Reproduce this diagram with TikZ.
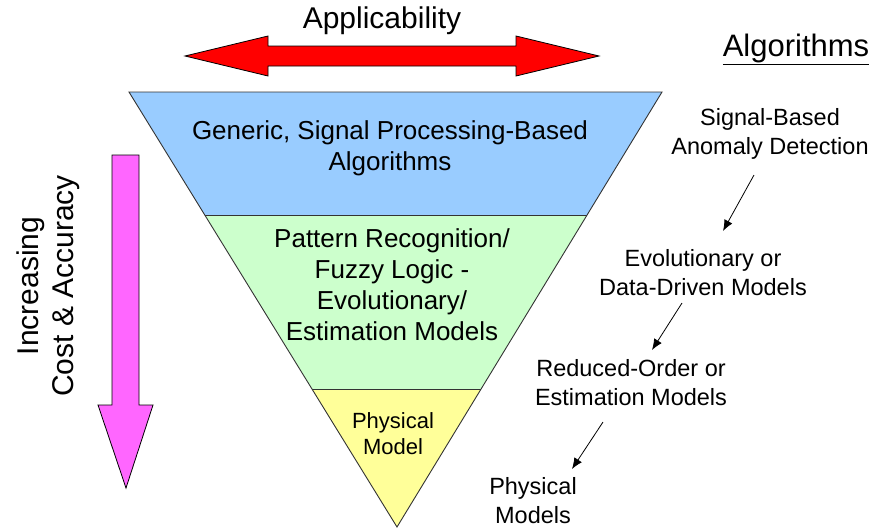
\documentclass[tikz,border=0pt]{standalone}
\usepackage{fontspec}
\setmainfont{Liberation Sans}
\usetikzlibrary{arrows.meta}
\definecolor{bandblue}{HTML}{99CCFF}
\definecolor{bandgreen}{HTML}{CCFFCC}
\definecolor{bandyellow}{HTML}{FFFF99}
\definecolor{pinkarrow}{HTML}{FF66FF}
\definecolor{redarrow}{HTML}{FF0000}
\tikzset{
  band/.style={draw=black!80, line width=0.9pt, line join=miter},
  bigarrow/.style={draw=black, line width=0.8pt, line join=miter},
  bandtext/.style={align=center, font=\fontsize{26}{31}\selectfont, inner sep=0pt},
  algtext/.style={align=center, font=\fontsize{23.5}{29}\selectfont, inner sep=0pt},
  flow/.style={-{Latex[length=11pt,width=9pt]}, line width=0.8pt, black},
}
\begin{document}
\begin{tikzpicture}[x=1pt,y=-1pt]
\useasboundingbox (0,0) rectangle (881,528);
% triangle bands
\fill[bandblue] (129,92) -- (662,92) -- (587,215) -- (205,215) -- cycle;
\fill[bandgreen] (205,215) -- (587,215) -- (481,389) -- (312,389) -- cycle;
\fill[bandyellow] (312,389) -- (481,389) -- (397,527) -- cycle;
\draw[band] (205,215) -- (587,215);
\draw[band] (312,389) -- (481,389);
\draw[band] (129,92) -- (662,92) -- (397,527) -- cycle;
% red double arrow
\draw[bigarrow, fill=redarrow] (185,56) -- (268,36) -- (268,46) -- (516,46) -- (516,36) -- (599,56) -- (516,76) -- (516,66) -- (268,66) -- (268,76) -- cycle;
\node[font=\fontsize{30}{34}\selectfont, inner sep=0pt] (appl) at (382,21) {Applicability};
% pink arrow
\draw[bigarrow, fill=pinkarrow] (112,155) -- (139,155) -- (139,405) -- (153,405) -- (126,488) -- (98,405) -- (112,405) -- cycle;
\node[rotate=90, align=center, font=\fontsize{30}{35}\selectfont, inner sep=0pt] (incr) at (48,286) {Increasing\\Cost \& Accuracy};
% band texts
\node[bandtext] (generic) at (390,148) {Generic, Signal Processing-Based\\Algorithms};
\node[bandtext] (pattern) at (392,285) {Pattern Recognition/\\Fuzzy Logic -\\Evolutionary/\\Estimation Models};
\node[align=center, font=\fontsize{22}{26}\selectfont, inner sep=0pt] (phys) at (393,434) {Physical\\Model};
% algorithms column
\node[font=\fontsize{31}{35}\selectfont, inner sep=0pt] (algs) at (796,49) {\underline{Algorithms}};
\node[algtext] (sig) at (770,134) {Signal-Based\\Anomaly Detection};
\node[algtext] (evo) at (703,273) {Evolutionary or\\Data-Driven Models};
\node[algtext] (red) at (631,383) {Reduced-Order or\\Estimation Models};
\node[algtext] (pm) at (533,501) {Physical\\Models};
\coordinate (a1s) at (754,175); \coordinate (a1e) at (723,231);
\coordinate (a2s) at (682,303); \coordinate (a2e) at (652,350);
\coordinate (a3s) at (603,422); \coordinate (a3e) at (572,469);
\draw[flow] (a1s) -- (a1e);
\draw[flow] (a2s) -- (a2e);
\draw[flow] (a3s) -- (a3e);
\end{tikzpicture}
\end{document}
